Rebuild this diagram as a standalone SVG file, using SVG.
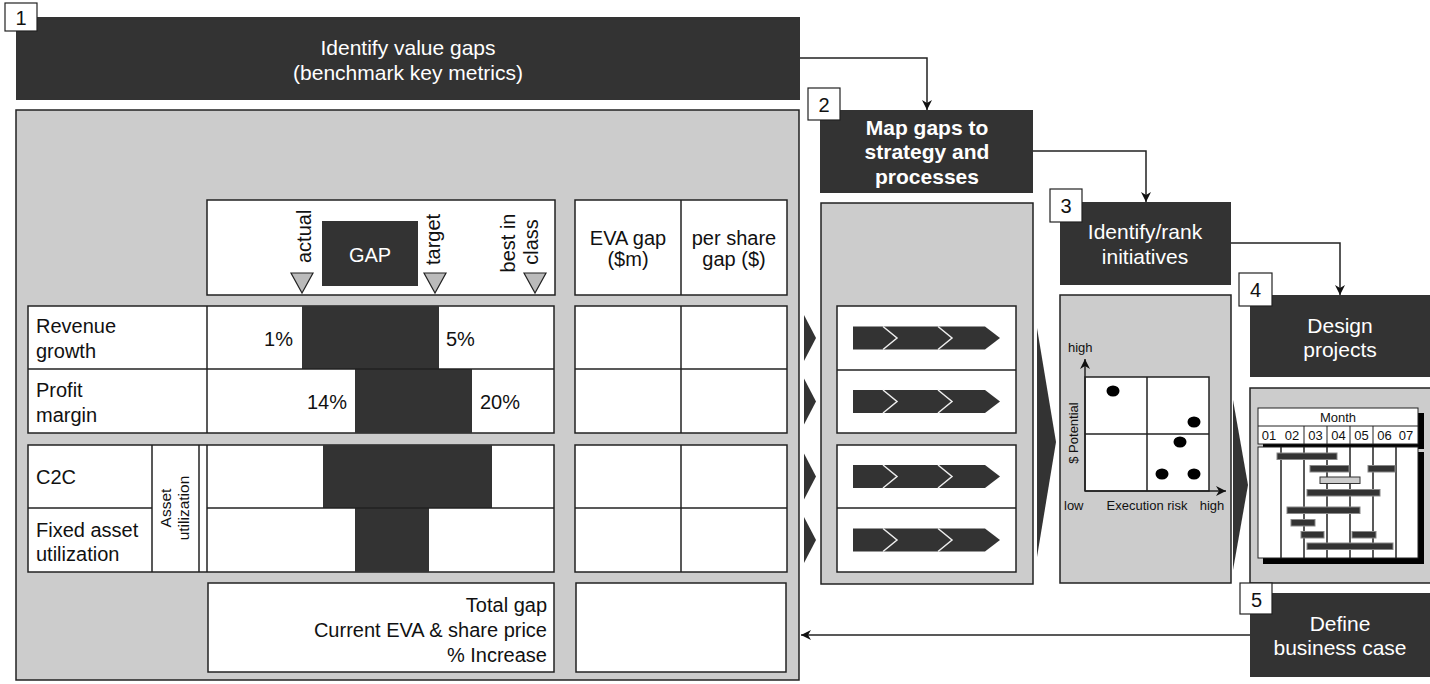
<svg xmlns="http://www.w3.org/2000/svg" width="1430" height="684" viewBox="0 0 1430 684">
<style>
.dark{fill:#333}
.panel{fill:#ccc;stroke:#222;stroke-width:1.5}
.cell{fill:#fff;stroke:#222;stroke-width:1.5}
.ln{stroke:#222;stroke-width:1.5;fill:none}
.num{fill:#fff;stroke:#222;stroke-width:1.2}
.conn{stroke:#222;stroke-width:1.5;fill:none}
text{font-family:"Liberation Sans",Arial,Helvetica,sans-serif}
.hw{fill:#fff;font-size:21px;text-anchor:middle}
.hb{fill:#fff;font-size:21px;font-weight:bold;text-anchor:middle}
.t{fill:#111;font-size:20px}
.nt{fill:#111;font-size:20px;text-anchor:middle}
.s{fill:#111;font-size:13px}
.g{fill:#111;font-size:13px;text-anchor:middle}
.tri{fill:#bbb;stroke:#222;stroke-width:1.2}
.bar{fill:#333;stroke:#888;stroke-width:1}
</style>
<defs>
<marker id="ah" viewBox="0 0 10 10" refX="10" refY="5" markerWidth="10" markerHeight="10" markerUnits="userSpaceOnUse" orient="auto">
<path d="M0,0 L10,5 L0,10 L3,5 Z" fill="#111"/>
</marker>
<g id="chev">
<path d="M0,0 H132 L147,11.5 L132,23 H0 Z" fill="#333"/>
<path d="M30,0 L44,11.5 L30,23 M85,0 L99,11.5 L85,23" stroke="#eee" stroke-width="1.5" fill="none"/>
</g>
</defs>

<g id="connectors">
<path class="conn" d="M800,58 H927 V110" marker-end="url(#ah)"/>
<path class="conn" d="M1033,151 H1146 V202" marker-end="url(#ah)"/>
<path class="conn" d="M1231,243 H1340 V295" marker-end="url(#ah)"/>
<path class="conn" d="M1250,635 H801" marker-end="url(#ah)"/>
</g>

<g id="step1">
<rect class="dark" x="16" y="17" width="784" height="83"/>
<rect class="num" x="5" y="3" width="32" height="28"/>
<text class="nt" x="21" y="25">1</text>
<text class="hw" x="408" y="55">Identify value gaps</text>
<text class="hw" x="408" y="80">(benchmark key metrics)</text>
</g>

<g id="panel1">
<rect class="panel" x="16" y="110" width="783" height="570"/>
<!-- header table -->
<rect class="cell" x="207" y="200" width="348" height="95"/>
<rect class="dark" x="322" y="221" width="96" height="65"/>
<text class="hw" x="370" y="262" style="font-size:20px">GAP</text>
<text class="t" transform="translate(311,263) rotate(-90)">actual</text>
<text class="t" transform="translate(440,265) rotate(-90)">target</text>
<text class="t" text-anchor="middle" transform="translate(515,243) rotate(-90)">best in</text>
<text class="t" text-anchor="middle" transform="translate(538,242) rotate(-90)">class</text>
<path class="tri" d="M291,273 H313 L302,293 Z"/>
<path class="tri" d="M424,273 H446 L435,293 Z"/>
<path class="tri" d="M524,273 H546 L535,293 Z"/>
<rect class="cell" x="575" y="200" width="212" height="95"/>
<line class="ln" x1="681" y1="200" x2="681" y2="295"/>
<text class="nt" x="628" y="245">EVA gap</text>
<text class="nt" x="628" y="266">($m)</text>
<text class="nt" x="734" y="245">per share</text>
<text class="nt" x="734" y="266">gap ($)</text>
<!-- rows 1-2 -->
<rect class="cell" x="28" y="306" width="526" height="127"/>
<rect class="dark" x="302" y="306" width="137" height="63"/>
<rect class="dark" x="355" y="369" width="117" height="64"/>
<line class="ln" x1="207" y1="306" x2="207" y2="433"/>
<line class="ln" x1="28" y1="369" x2="554" y2="369"/>
<text class="t" x="36" y="333">Revenue</text>
<text class="t" x="36" y="358">growth</text>
<text class="t" x="36" y="397">Profit</text>
<text class="t" x="36" y="422">margin</text>
<text class="t" x="293" y="346" text-anchor="end">1%</text>
<text class="t" x="446" y="346">5%</text>
<text class="t" x="347" y="409" text-anchor="end">14%</text>
<text class="t" x="480" y="409">20%</text>
<rect class="cell" x="575" y="306" width="212" height="127"/>
<line class="ln" x1="681" y1="306" x2="681" y2="433"/>
<line class="ln" x1="575" y1="369" x2="787" y2="369"/>
<!-- rows 3-4 -->
<rect class="cell" x="28" y="445" width="526" height="127"/>
<rect class="dark" x="323" y="445" width="169" height="63"/>
<rect class="dark" x="355" y="508" width="74" height="64"/>
<line class="ln" x1="152" y1="445" x2="152" y2="572"/>
<line class="ln" x1="199" y1="445" x2="199" y2="572"/>
<line class="ln" x1="207" y1="445" x2="207" y2="572"/>
<line class="ln" x1="28" y1="508" x2="152" y2="508"/>
<line class="ln" x1="207" y1="508" x2="554" y2="508"/>
<text class="t" x="36" y="484">C2C</text>
<text class="t" x="36" y="537">Fixed asset</text>
<text class="t" x="36" y="561">utilization</text>
<text class="t" style="font-size:15.5px" text-anchor="middle" transform="translate(171,508) rotate(-90)">Asset</text>
<text class="t" style="font-size:15.5px" text-anchor="middle" transform="translate(189,508) rotate(-90)">utilization</text>
<rect class="cell" x="575" y="445" width="212" height="127"/>
<line class="ln" x1="681" y1="445" x2="681" y2="572"/>
<line class="ln" x1="575" y1="508" x2="787" y2="508"/>
<!-- totals -->
<rect class="cell" x="208" y="583" width="346" height="89"/>
<text class="t" x="547" y="612" text-anchor="end">Total gap</text>
<text class="t" x="547" y="637" text-anchor="end">Current EVA &amp; share price</text>
<text class="t" x="547" y="662" text-anchor="end">% Increase</text>
<rect class="cell" x="576" y="583" width="210" height="89"/>
</g>

<g id="row-arrows">
<path class="dark" d="M804,315 L816,338 L804,361 Z"/>
<path class="dark" d="M804,378.5 L816,401.5 L804,424.5 Z"/>
<path class="dark" d="M804,453.5 L816,476.5 L804,499.5 Z"/>
<path class="dark" d="M804,517 L816,540 L804,563 Z"/>
<path class="dark" d="M1037,328 L1056,442 L1037,557 Z"/>
<path class="dark" d="M1233,400 L1248,485 L1233,570 Z"/>
</g>

<g id="step2">
<rect class="dark" x="820" y="110" width="213" height="83"/>
<rect class="num" x="808" y="88" width="32" height="32"/>
<text class="nt" x="824" y="112">2</text>
<text class="hb" x="927" y="135">Map gaps to</text>
<text class="hb" x="927" y="159">strategy and</text>
<text class="hb" x="927" y="184">processes</text>
</g>

<g id="panel2">
<rect class="panel" x="821" y="203" width="212" height="381"/>
<rect class="cell" x="837" y="306" width="179" height="127"/>
<line class="ln" x1="837" y1="370" x2="1016" y2="370"/>
<rect class="cell" x="837" y="445" width="179" height="127"/>
<line class="ln" x1="837" y1="508" x2="1016" y2="508"/>
<use href="#chev" x="853" y="326.5"/>
<use href="#chev" x="853" y="390"/>
<use href="#chev" x="853" y="465"/>
<use href="#chev" x="853" y="528.5"/>
</g>

<g id="step3">
<rect class="dark" x="1060" y="202" width="171" height="83"/>
<rect class="num" x="1050" y="189" width="32" height="33"/>
<text class="nt" x="1066" y="213">3</text>
<text class="hw" x="1145" y="239">Identify/rank</text>
<text class="hw" x="1145" y="264">initiatives</text>
</g>

<g id="panel3">
<rect class="panel" x="1060" y="295" width="171" height="288"/>
<rect x="1085" y="377" width="124" height="114" fill="#fff" stroke="#222" stroke-width="1.5"/>
<line class="ln" x1="1147" y1="377" x2="1147" y2="491"/>
<line class="ln" x1="1085" y1="434" x2="1209" y2="434"/>
<path class="conn" d="M1085,491 V359" marker-end="url(#ah)"/>
<path class="conn" d="M1085,491 H1226" marker-end="url(#ah)"/>
<ellipse cx="1113" cy="391" rx="6.5" ry="5.5" fill="#000"/>
<ellipse cx="1194" cy="422" rx="6.5" ry="5.5" fill="#000"/>
<ellipse cx="1180" cy="442" rx="6.5" ry="5.5" fill="#000"/>
<ellipse cx="1162" cy="474" rx="6.5" ry="5.5" fill="#000"/>
<ellipse cx="1194" cy="474" rx="6.5" ry="5.5" fill="#000"/>
<text class="s" x="1068" y="352">high</text>
<text class="g" transform="translate(1078,433) rotate(-90)">$ Potential</text>
<text class="s" x="1064" y="510">low</text>
<text class="g" x="1147" y="510">Execution risk</text>
<text class="g" x="1212" y="510">high</text>
</g>

<g id="step4">
<rect class="dark" x="1250" y="295" width="180" height="82"/>
<rect class="num" x="1239" y="273" width="33" height="33"/>
<text class="nt" x="1255.5" y="297">4</text>
<text class="hw" x="1340" y="333">Design</text>
<text class="hw" x="1340" y="357">projects</text>
</g>

<g id="panel4">
<rect class="panel" x="1250" y="388" width="182" height="195"/>
<rect x="1263" y="413" width="161" height="36" fill="#000"/>
<rect x="1263" y="452" width="161" height="112" fill="#000"/>
<rect x="1258" y="408" width="160" height="36" fill="#fff" stroke="#222" stroke-width="1"/>
<line x1="1258" y1="426" x2="1418" y2="426" stroke="#222" stroke-width="1"/>
<rect x="1258" y="447" width="160" height="111" fill="#fff" stroke="#222" stroke-width="1"/>
<text class="g" x="1338" y="422">Month</text>
<g stroke="#222" stroke-width="1">
<line x1="1304" y1="426" x2="1304" y2="444"/>
<line x1="1327" y1="426" x2="1327" y2="444"/>
<line x1="1350" y1="426" x2="1350" y2="444"/>
<line x1="1373" y1="426" x2="1373" y2="444"/>
</g>
<g stroke="#222" stroke-width="1.5">
<line x1="1281" y1="447" x2="1281" y2="558"/>
<line x1="1304" y1="447" x2="1304" y2="558"/>
<line x1="1327" y1="447" x2="1327" y2="558"/>
<line x1="1350" y1="447" x2="1350" y2="558"/>
<line x1="1373" y1="447" x2="1373" y2="558"/>
<line x1="1396" y1="447" x2="1396" y2="558"/>
</g>
<text class="g" x="1269" y="440">01</text>
<text class="g" x="1292" y="440">02</text>
<text class="g" x="1315.5" y="440">03</text>
<text class="g" x="1338.5" y="440">04</text>
<text class="g" x="1361.5" y="440">05</text>
<text class="g" x="1384.5" y="440">06</text>
<text class="g" x="1406" y="440">07</text>
<rect class="bar" x="1277" y="453" width="60" height="6.5"/>
<rect class="bar" x="1310" y="465.5" width="39" height="6.5"/>
<rect class="bar" x="1368" y="465.5" width="27" height="6.5"/>
<rect x="1320" y="477" width="40" height="6.5" fill="#ccc" stroke="#333" stroke-width="1"/>
<rect class="bar" x="1307" y="489.5" width="73" height="6.5"/>
<rect class="bar" x="1287" y="507" width="73" height="6.5"/>
<rect class="bar" x="1291" y="519.5" width="24" height="6.5"/>
<rect class="bar" x="1301" y="531.5" width="23" height="6.5"/>
<rect class="bar" x="1352" y="531.5" width="24" height="6.5"/>
<rect class="bar" x="1307" y="543" width="86" height="6.5"/>
</g>

<g id="step5">
<rect class="dark" x="1250" y="593" width="180" height="84"/>
<rect class="num" x="1240" y="583" width="32" height="31"/>
<text class="nt" x="1256.5" y="607">5</text>
<text class="hw" x="1340" y="631">Define</text>
<text class="hw" x="1340" y="655">business case</text>
</g>
</svg>
